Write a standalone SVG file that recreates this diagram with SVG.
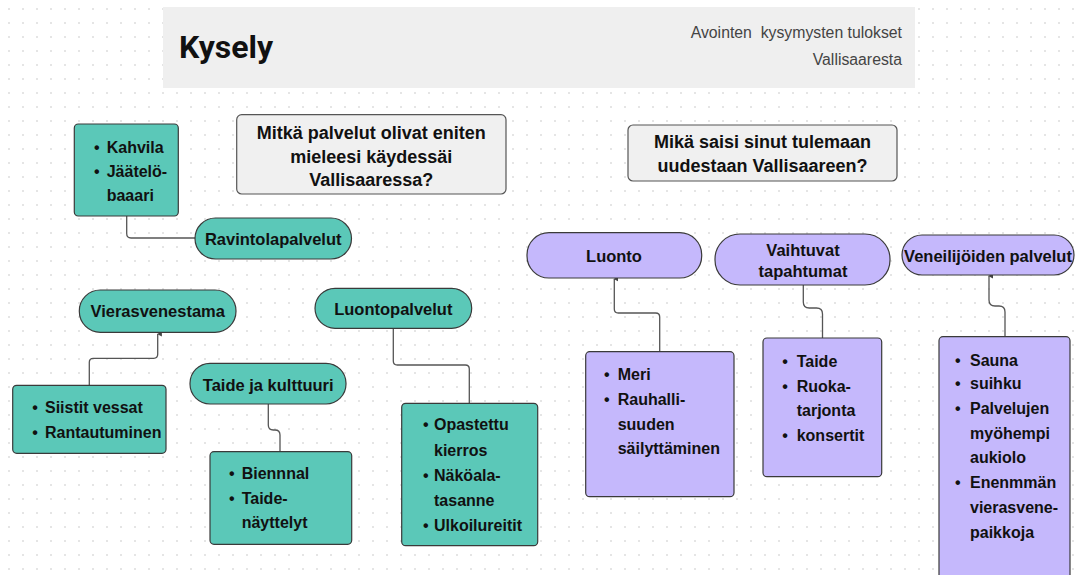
<svg xmlns="http://www.w3.org/2000/svg" width="1081" height="575" viewBox="0 0 1081 575">
<defs>
<pattern id="dots" x="8" y="8" width="14" height="14" patternUnits="userSpaceOnUse">
<circle cx="1" cy="1" r="0.9" fill="#d9d9d9"/>
</pattern>
<marker id="tip" viewBox="0 0 6 6" refX="3" refY="1" markerWidth="5" markerHeight="5" orient="auto-start-reverse" markerUnits="userSpaceOnUse">
<path d="M0 6 L3 0 L6 6 Z" fill="#444"/>
</marker>
</defs>
<style>
.teal{fill:#5bc8b8;stroke:#3a3a3a;stroke-width:1.2}
.purple{fill:#c5b8fc;stroke:#3a3a3a;stroke-width:1.2}
.q{fill:#f0f0f0;stroke:#555;stroke-width:1.2}
.t{font-family:"Liberation Sans",Arial,sans-serif;font-weight:700;font-size:16.5px;fill:#111;text-anchor:middle}
.qt{font-family:"Liberation Sans",Arial,sans-serif;font-weight:700;font-size:18px;fill:#111;text-anchor:middle}
.b{font-family:"Liberation Sans",Arial,sans-serif;font-weight:700;font-size:16px;fill:#111}
.bu{font-family:"Liberation Sans",Arial,sans-serif;font-weight:700;font-size:16px;fill:#111;text-anchor:middle}
.c{fill:none;stroke:#555;stroke-width:1.3}
</style>
<rect width="1081" height="575" fill="#ffffff"/>
<rect width="1081" height="575" fill="url(#dots)"/>

<g id="header">
<rect x="163" y="7" width="752" height="81" fill="#efefef"/>
<text x="179" y="58" font-family="Roboto,'Liberation Sans',sans-serif" font-weight="700" font-size="32" fill="#111">Kysely</text>
<text x="902" y="38" font-family="'Liberation Sans',Arial,sans-serif" font-size="15.8" fill="#444" text-anchor="end" style="white-space:pre">Avointen  kysymysten tulokset</text>
<text x="902" y="65" font-family="'Liberation Sans',Arial,sans-serif" font-size="15.8" fill="#444" text-anchor="end">Vallisaaresta</text>
</g>

<g id="connectors">
<path class="c" d="M126.7 216 V233.5 Q126.7 238 131 238 H195"/>
<path class="c" d="M89.3 385.3 V362.3 Q89.3 358.3 93.3 358.3 H153.7 Q157.7 358.3 157.7 354.3 V334" marker-end="url(#tip)"/>
<path class="c" d="M393.3 328.3 V361 Q393.3 365 397.3 365 H465.3 Q469.3 365 469.3 369 V403.3"/>
<path class="c" d="M268.3 404 V425 Q268.3 430 273.3 430 H275 Q280 430 280 435 V451.7"/>
<path class="c" d="M659.7 351.7 V317 Q659.7 313 655.7 313 H618.3 Q614.3 313 614.3 309 V279" marker-end="url(#tip)"/>
<path class="c" d="M803.3 285 V302 Q803.3 308 809.3 308 H816.5 Q822.5 308 822.5 314 V338"/>
<path class="c" d="M1005 336.7 V312 Q1005 306 999 306 H995 Q989 306 989 300 V276" marker-end="url(#tip)"/>
</g>

<g id="q1">
<rect class="q" x="236.7" y="114.7" width="269.3" height="79.3" rx="5"/>
<text class="qt" x="371.3" y="139">Mitkä palvelut olivat eniten</text>
<text class="qt" x="371.3" y="162.5">mieleesi käydessäi</text>
<text class="qt" x="371.3" y="186">Vallisaaressa?</text>
</g>

<g id="q2">
<rect class="q" x="628" y="125" width="269" height="56" rx="5"/>
<text class="qt" x="762.5" y="148">Mikä saisi sinut tulemaan</text>
<text class="qt" x="762.5" y="171.5">uudestaan Vallisaareen?</text>
</g>

<g id="kahvila">
<rect class="teal" x="74.3" y="124" width="104" height="92" rx="4"/>
<text class="bu" x="96.7" y="152.7">•</text>
<text class="b" x="106.7" y="152.7">Kahvila</text>
<text class="bu" x="96.7" y="176.5">•</text>
<text class="b" x="106.7" y="176.5">Jäätelö-</text>
<text class="b" x="106.7" y="201">baaari</text>
</g>

<g id="ravintolapalvelut">
<rect class="teal" x="195" y="218" width="156.5" height="41" rx="20.5"/>
<text class="t" x="273.2" y="244.5">Ravintolapalvelut</text>
</g>

<g id="vierasvenestama">
<rect class="teal" x="79.3" y="290" width="156.7" height="42.3" rx="21"/>
<text class="t" x="157.7" y="317.3">Vierasvenestama</text>
</g>

<g id="siistit">
<rect class="teal" x="12.7" y="385.3" width="153.3" height="68" rx="4"/>
<text class="bu" x="35" y="413.3">•</text>
<text class="b" x="45" y="413.3">Siistit vessat</text>
<text class="bu" x="35" y="438.3">•</text>
<text class="b" x="45" y="438.3">Rantautuminen</text>
</g>

<g id="luontopalvelut">
<rect class="teal" x="315" y="288.3" width="156.7" height="40" rx="20"/>
<text class="t" x="393.3" y="315">Luontopalvelut</text>
</g>

<g id="taide-ja-kulttuuri">
<rect class="teal" x="190" y="363.3" width="156" height="40.7" rx="20"/>
<text class="t" x="268.2" y="390.5">Taide ja kulttuuri</text>
</g>

<g id="biennnal">
<rect class="teal" x="210" y="451.7" width="141.7" height="92.6" rx="4"/>
<text class="bu" x="231.7" y="479.3">•</text>
<text class="b" x="241.7" y="479.3">Biennnal</text>
<text class="bu" x="231.7" y="504">•</text>
<text class="b" x="241.7" y="504">Taide-</text>
<text class="b" x="241.7" y="528.3">näyttelyt</text>
</g>

<g id="opastettu">
<rect class="teal" x="401.7" y="403.3" width="136" height="142.4" rx="4"/>
<text class="bu" x="425.7" y="430">•</text>
<text class="b" x="434" y="430">Opastettu</text>
<text class="b" x="434" y="456">kierros</text>
<text class="bu" x="425.7" y="480.5">•</text>
<text class="b" x="434" y="480.5">Näköala-</text>
<text class="b" x="434" y="505.7">tasanne</text>
<text class="bu" x="425.7" y="530.7">•</text>
<text class="b" x="434" y="530.7">Ulkoilureitit</text>
</g>

<g id="luonto">
<rect class="purple" x="527" y="232.7" width="174.7" height="45.3" rx="22"/>
<text class="t" x="614" y="261.7">Luonto</text>
</g>

<g id="vaihtuvat-tapahtumat">
<rect class="purple" x="715" y="234" width="175" height="51" rx="25"/>
<text class="t" x="803" y="256">Vaihtuvat</text>
<text class="t" x="803" y="276.7">tapahtumat</text>
</g>

<g id="veneilijoiden-palvelut">
<rect class="purple" x="902" y="235" width="172" height="40" rx="20"/>
<text class="t" x="988" y="261.7">Veneilijöiden palvelut</text>
</g>

<g id="meri">
<rect class="purple" x="585.7" y="351.7" width="148.3" height="145" rx="4"/>
<text class="bu" x="606.7" y="380">•</text>
<text class="b" x="617.7" y="380">Meri</text>
<text class="bu" x="606.7" y="405">•</text>
<text class="b" x="617.7" y="405">Rauhalli-</text>
<text class="b" x="617.7" y="430">suuden</text>
<text class="b" x="617.7" y="454">säilyttäminen</text>
</g>

<g id="taide">
<rect class="purple" x="763" y="338" width="118.7" height="138.7" rx="4"/>
<text class="bu" x="785" y="366.7">•</text>
<text class="b" x="796.7" y="366.7">Taide</text>
<text class="bu" x="785" y="391.7">•</text>
<text class="b" x="796.7" y="391.7">Ruoka-</text>
<text class="b" x="796.7" y="416">tarjonta</text>
<text class="bu" x="785" y="441">•</text>
<text class="b" x="796.7" y="441">konsertit</text>
</g>

<g id="sauna">
<rect class="purple" x="939" y="336.7" width="131" height="260" rx="4"/>
<text class="bu" x="957.7" y="365.7">•</text>
<text class="b" x="970" y="365.7">Sauna</text>
<text class="bu" x="957.7" y="389">•</text>
<text class="b" x="970" y="389">suihku</text>
<text class="bu" x="957.7" y="414">•</text>
<text class="b" x="970" y="414">Palvelujen</text>
<text class="b" x="970" y="438.5">myöhempi</text>
<text class="b" x="970" y="463">aukiolo</text>
<text class="bu" x="957.7" y="488">•</text>
<text class="b" x="970" y="488">Enenmmän</text>
<text class="b" x="970" y="513">vierasvene-</text>
<text class="b" x="970" y="538">paikkoja</text>
</g>
</svg>
